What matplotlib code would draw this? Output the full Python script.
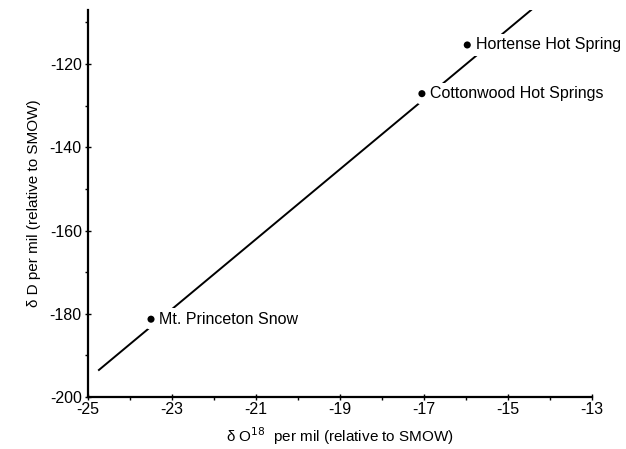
import numpy as np
import matplotlib
matplotlib.use("Agg")
import matplotlib.pyplot as plt

plt.rcParams['font.family'] = ['Liberation Sans', 'DejaVu Sans']
plt.rcParams['axes.unicode_minus'] = False

# samples (delta O18, delta D)
names = ["Mt. Princeton Snow", "Cottonwood Hot Springs", "Hortense Hot Spring"]
d18o = [-23.5, -17.05, -15.97]
dd = [-181.3, -127.1, -115.4]

# meteoric water line end points
line_x = [-24.74, -14.45]
line_y = [-193.5, -107.0]

x_ticks = [-25, -23, -21, -19, -17, -15, -13]
y_ticks = [-200, -180, -160, -140, -120]


def main():
    fig = plt.figure(figsize=(6.26, 4.49), dpi=100)
    ax = fig.add_axes([0.1406, 0.1158, 0.8051, 0.8619])

    ax.plot(line_x, line_y, color="black", lw=1.4, zorder=1)
    # white halo breaks the line around each point
    ax.scatter(d18o, dd, s=30, facecolors="white", edgecolors="white",
               linewidths=9, zorder=3)
    ax.scatter(d18o, dd, s=26, facecolors="black", edgecolors="none",
               zorder=4)
    for name, x, y in zip(names, d18o, dd):
        ax.text(x + 0.2, y, name, fontsize=11.5, va="center", ha="left",
                zorder=5,
                bbox=dict(facecolor="white", edgecolor="none", pad=2.5))

    ax.set_xlim(-25, -13)
    ax.set_ylim(-200, -107)
    ax.set_xticks(x_ticks)
    ax.set_xticks(np.arange(-25, -12, 1), minor=True)
    ax.set_yticks(y_ticks)
    ax.set_yticks(np.arange(-200, -106, 10), minor=True)

    for side in ["top", "right"]:
        ax.spines[side].set_visible(False)
    for side in ["left", "bottom"]:
        ax.spines[side].set_linewidth(1.6)
    ax.tick_params(which="major", direction="inout", length=5, width=1,
                   labelsize=11.5, pad=1)
    ax.tick_params(axis="y", which="major", pad=2)
    ax.tick_params(which="minor", direction="out", length=2.5, width=1)

    ax.set_xlabel("δ O$^{18}$  per mil (relative to SMOW)", fontsize=11,
                  labelpad=6)
    ax.set_ylabel("δ D per mil (relative to SMOW)", fontsize=11,
                  labelpad=6)

    fig.savefig("out.png", dpi=100)


if __name__ == "__main__":
    main()
